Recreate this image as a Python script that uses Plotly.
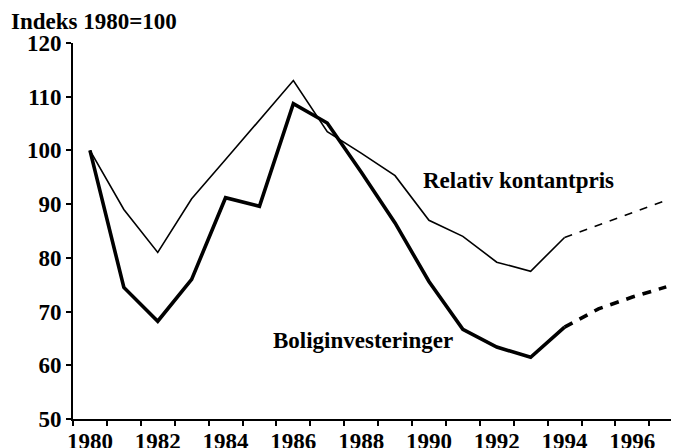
import plotly.graph_objects as go

years = list(range(1980, 1998))
relativ_kontantpris = [100, 89, 81, 91, 98.3, 105.6, 113, 103.5, 99.5, 95.3,
                       87, 84, 79.2, 77.5, 83.8, 86.1, 88.4, 90.7]
boliginvesteringer = [100, 74.5, 68.2, 76, 91.2, 89.6, 108.7, 105.1, 96, 86.5,
                      75.6, 66.7, 63.4, 61.5, 67.1, 70.5, 72.7, 74.6]
last_actual_year = 1994
x_tick_labels = [str(y) for y in range(1980, 1997, 2)]
y_tick_values = [50, 60, 70, 80, 90, 100, 110, 120]

split = years.index(last_actual_year) + 1
FONT = "Liberation Serif"

# page body has an 8px margin; lay out in window pixels minus that offset
OFF = 8
W, H = 679 - OFF, 448 - OFF
L, T = 73 - OFF, 43 - OFF
R = W - (677 - OFF)
B = H - (419 - OFF)
pw, ph = W - L - R, H - T - B


def px(x, y):
    return (x - OFF - L) / pw, (H - B - (y - OFF)) / ph


fig = go.Figure()
# Relativ kontantpris: thin line
fig.add_trace(go.Scatter(x=years[:split], y=relativ_kontantpris[:split], mode="lines",
                         line=dict(color="black", width=1.6), showlegend=False))
fig.add_trace(go.Scatter(x=years[split - 1:], y=relativ_kontantpris[split - 1:], mode="lines",
                         line=dict(color="black", width=1.6, dash="8px,8px"), showlegend=False))
# Boliginvesteringer: thick line
fig.add_trace(go.Scatter(x=years[:split], y=boliginvesteringer[:split], mode="lines",
                         line=dict(color="black", width=3.6), showlegend=False))
fig.add_trace(go.Scatter(x=years[split - 1:], y=boliginvesteringer[split - 1:], mode="lines",
                         line=dict(color="black", width=3.6, dash="9px,8px"), showlegend=False))

for text, (x, y) in [("Relativ kontantpris", (421, 180)),
                     ("Boliginvesteringer", (271, 340)),
                     ("Indeks 1980=100", (9, 22))]:
    ax, ay = px(x, y)
    fig.add_annotation(x=ax, y=ay, xref="paper", yref="paper", text=f"<b>{text}</b>",
                       showarrow=False, xanchor="left", yanchor="middle")

fig.update_layout(
    width=W, height=H,
    margin=dict(l=L, r=R, t=T, b=B, autoexpand=False),
    paper_bgcolor="white", plot_bgcolor="white",
    font=dict(family=FONT, size=23, color="black"),
    xaxis=dict(range=[1979.5, 1979.5 + pw / 33.9], automargin=False,
               tickvals=list(range(1980, 1997, 2)), ticktext=[f"<b>{t}</b>" for t in x_tick_labels],
               ticks="", showgrid=False, zeroline=False,
               showline=True, linecolor="black", linewidth=2,
               minor=dict(tickvals=[y + 0.5 for y in range(1979, 1997)],
                          ticks="outside", ticklen=5, tickwidth=1.5, tickcolor="black",
                          showgrid=False),
               tickfont=dict(family=FONT, size=23)),
    yaxis=dict(range=[50, 120], tickvals=y_tick_values, automargin=False,
               ticktext=[f"<b>{v}</b>" for v in y_tick_values],
               ticks="outside", ticklen=5, tickwidth=1.5, tickcolor="black",
               showgrid=False, zeroline=False,
               showline=True, linecolor="black", linewidth=2,
               tickfont=dict(family=FONT, size=23)),
)

fig.write_html("out.html")
